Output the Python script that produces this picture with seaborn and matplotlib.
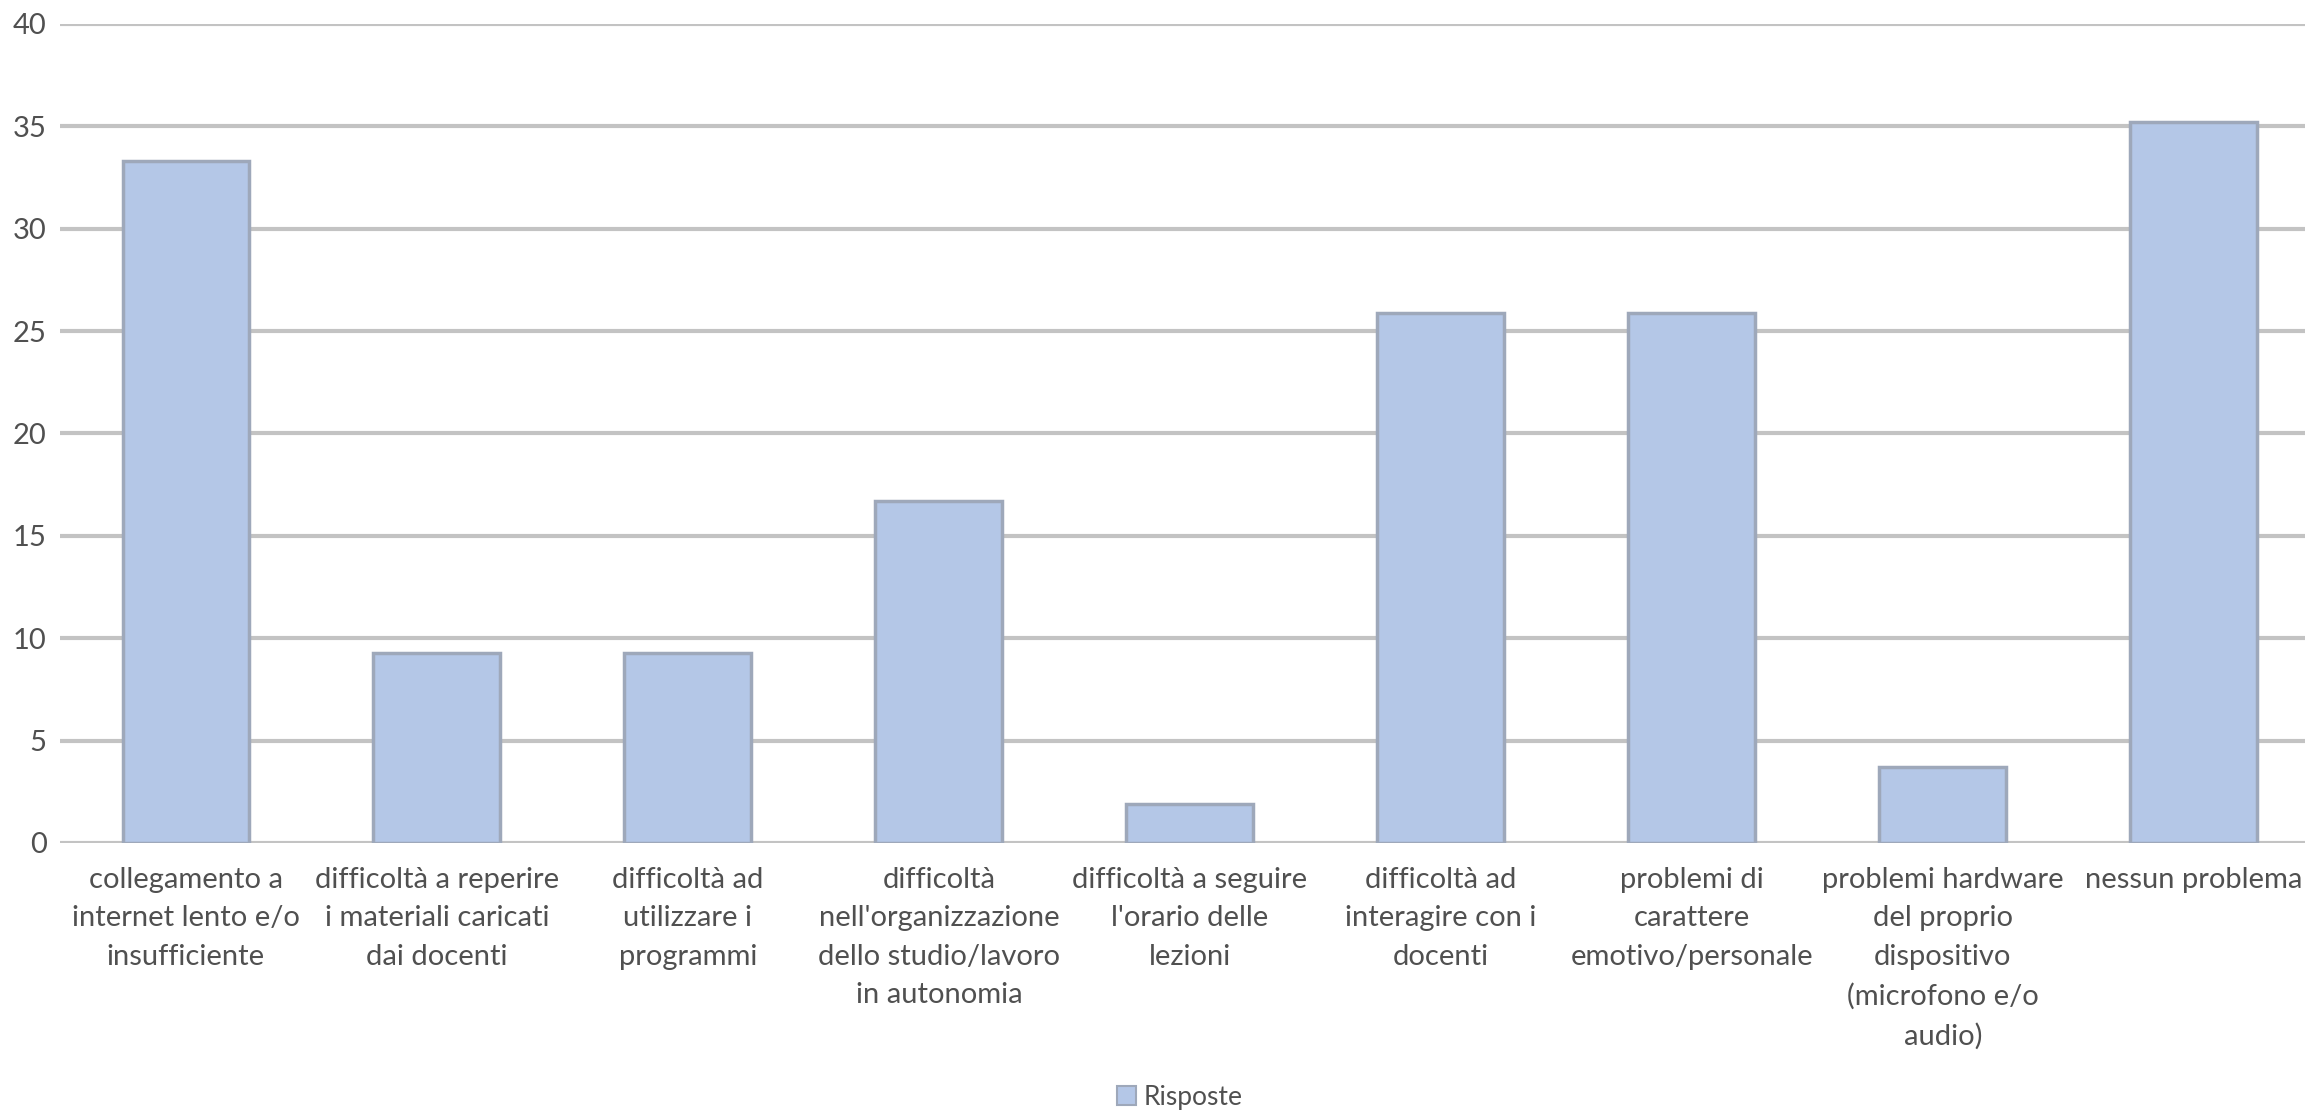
import numpy as np
import pandas as pd
import matplotlib
matplotlib.use("Agg")
import matplotlib.pyplot as plt
import seaborn as sns
from matplotlib.patches import Patch

categories = [
    "collegamento a\ninternet lento e/o\ninsufficiente",
    "difficoltà a reperire\ni materiali caricati\ndai docenti",
    "difficoltà ad\nutilizzare i\nprogrammi",
    "difficoltà\nnell'organizzazione\ndello studio/lavoro\nin autonomia",
    "difficoltà a seguire\nl'orario delle\nlezioni",
    "difficoltà ad\ninteragire con i\ndocenti",
    "problemi di\ncarattere\nemotivo/personale",
    "problemi hardware\ndel proprio\ndispositivo\n(microfono e/o\naudio)",
    "nessun problema",
]
risposte = [33.3, 9.3, 9.3, 16.7, 1.9, 25.9, 25.9, 3.7, 35.2]
series_name = "Risposte"

bar_color = "#b4c7e7"
edge_color = "#9ea8ba"
grid_color = "#c3c3c3"
text_color = "#505050"

sns.set_style("white")
plt.rcParams["font.family"] = ["Lato", "DejaVu Sans"]

df = pd.DataFrame({"categoria": categories, "valore": risposte})

fig = plt.figure(figsize=(23.05, 11.15), dpi=100)
ax = fig.add_axes([0.0262, 0.244, 0.980, 0.7345])

ax.set_axisbelow(True)
ax.yaxis.grid(True, color=grid_color, linewidth=3)
sns.barplot(data=df, x="categoria", y="valore", color=bar_color,
            edgecolor=edge_color, linewidth=2.5, width=0.505, ax=ax,
            saturation=1)

ax.set_ylim(0, 40)
ax.set_yticks(np.arange(0, 41, 5))
ax.set_xlabel("")
ax.set_ylabel("")
for s in ax.spines.values():
    s.set_visible(False)
ax.tick_params(axis="both", length=0, colors=text_color, labelsize=21)
ax.tick_params(axis="x", pad=17)
ax.tick_params(axis="y", pad=10)
for lbl in ax.get_xticklabels():
    lbl.set_linespacing(1.6)
    lbl.set_verticalalignment("top")

handle = Patch(facecolor=bar_color, edgecolor=edge_color, linewidth=1.5)
fig.legend([handle], [series_name], loc="center", bbox_to_anchor=(0.512, 0.016),
           frameon=False, fontsize=19, labelcolor=text_color,
           handlelength=0.7, handleheight=0.7, handletextpad=0.3)

fig.savefig("out.png", dpi=100)
